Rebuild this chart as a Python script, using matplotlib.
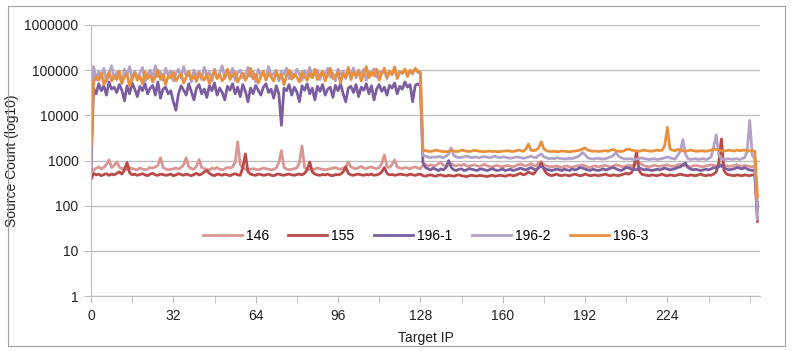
import matplotlib
matplotlib.use("Agg")
import matplotlib.pyplot as plt
from matplotlib.ticker import FixedLocator, FuncFormatter, MultipleLocator
from matplotlib.patches import Rectangle

# series names and colours
names = ["146", "155", "196-1", "196-2", "196-3"]
colors = ["#D99694", "#B94A48", "#7B5EA0", "#B3A2C7", "#E8903E"]

# source counts per target IP (0..259)
s146 = [700,
    600, 680, 720, 650, 700, 820, 1030, 700, 780, 925,
    720, 650, 680, 620, 700, 660, 640, 620, 680, 650,
    620, 650, 700, 680, 720, 780, 1150, 700, 650, 620,
    640, 660, 680, 650, 700, 800, 1150, 720, 660, 640,
    750, 1050, 700, 660, 640, 620, 680, 650, 700, 640,
    620, 660, 700, 680, 720, 900, 2600, 800, 680, 650,
    620, 640, 660, 640, 620, 650, 680, 660, 640, 620,
    640, 680, 900, 1660, 700, 650, 620, 640, 660, 680,
    900, 2100, 700, 650, 640, 620, 650, 680, 660, 640,
    620, 640, 660, 680, 700, 660, 640, 680, 720, 925,
    720, 680, 650, 700, 740, 680, 660, 700, 720, 680,
    660, 700, 850, 1330, 750, 700, 820, 1030, 720, 680,
    660, 700, 680, 650, 700, 720, 680, 660,
    780, 820, 750, 800, 760, 780, 850, 900, 780, 760,
    800, 850, 780, 760, 800, 780, 820, 760, 740, 780,
    800, 760, 740, 780, 820, 760, 740, 720, 760, 780,
    740, 720, 760, 780, 740, 720, 760, 800, 840, 780,
    760, 800, 850, 780, 760, 900, 950, 800, 760, 740,
    720, 740, 760, 720, 700, 740, 760, 720, 700, 740,
    760, 780, 800, 760, 720, 700, 740, 760, 720, 740,
    760, 780, 740, 720, 760, 800, 780, 740, 720, 760,
    780, 760, 800, 880, 900, 820, 760, 740, 720, 760,
    780, 760, 740, 760, 780, 800, 760, 740, 760, 800,
    820, 780, 760, 740, 720, 760, 780, 760, 740, 720,
    760, 780, 800, 780, 760, 800, 820, 780, 760, 740,
    760, 780, 800, 760, 740, 780, 760, 740, 720, 760,
    100]

s155 = [380,
    520, 480, 500, 460, 490, 510, 470, 500, 480, 520,
    560, 500, 620, 900, 540, 480, 500, 470, 490, 510,
    480, 460, 500, 520, 480, 470, 500, 490, 470, 480,
    500, 460, 480, 510, 490, 470, 500, 480, 460, 490,
    520, 480, 500, 560, 600, 520, 480, 460, 500, 490,
    470, 500, 480, 460, 490, 510, 480, 470, 700, 1400,
    560, 500, 480, 470, 500, 490, 470, 480, 500, 470,
    460, 490, 500, 480, 470, 490, 500, 480, 470, 490,
    500, 480, 520, 620, 925, 560, 500, 480, 470, 490,
    480, 500, 470, 460, 490, 480, 500, 560, 720, 520,
    480, 470, 490, 500, 480, 470, 490, 480, 500, 470,
    480, 500, 560, 700, 520, 480, 490, 470, 480, 500,
    490, 480, 470, 500, 480, 470, 490, 500,
    460, 450, 470, 480, 460, 450, 470, 480, 460, 450,
    470, 460, 450, 470, 480, 460, 450, 440, 460, 470,
    460, 450, 470, 460, 450, 440, 460, 470, 450, 460,
    470, 460, 450, 470, 480, 460, 470, 500, 520, 480,
    500, 560, 520, 500, 600, 700, 880, 640, 520, 480,
    460, 480, 500, 470, 460, 480, 470, 460, 480, 500,
    480, 460, 470, 500, 480, 460, 470, 480, 460, 470,
    480, 500, 470, 460, 480, 470, 460, 480, 500, 520,
    500, 540, 700, 1620, 600, 500, 480, 470, 460, 480,
    470, 460, 480, 500, 470, 460, 480, 470, 460, 480,
    500, 480, 470, 460, 480, 470, 460, 480, 500, 470,
    460, 480, 470, 500, 560, 900, 3000, 600, 500, 480,
    470, 460, 480, 470, 460, 480, 470, 460, 480, 470,
    45]

s196_1 = [600,
    40000, 30000, 50000, 35000, 45000, 28000, 55000, 38000, 42000, 32000,
    48000, 36000, 21000, 45000, 30000, 52000, 38000, 26000, 44000, 35000,
    50000, 30000, 40000, 46000, 28000, 55000, 24000, 38000, 42000, 30000,
    35000, 20000, 13000, 30000, 45000, 36000, 28000, 50000, 33000, 22000,
    40000, 48000, 30000, 38000, 25000, 45000, 35000, 52000, 28000, 40000,
    32000, 22000, 44000, 36000, 50000, 30000, 42000, 26000, 48000, 34000,
    20000, 40000, 30000, 46000, 36000, 28000, 42000, 50000, 32000, 38000,
    24000, 45000, 30000, 6000, 40000, 35000, 48000, 28000, 42000, 33000,
    20000, 45000, 36000, 50000, 30000, 40000, 22000, 44000, 34000, 48000,
    28000, 38000, 42000, 25000, 46000, 35000, 50000, 30000, 20000, 40000,
    44000, 32000, 48000, 26000, 42000, 36000, 50000, 30000, 45000, 22000,
    38000, 48000, 34000, 42000, 28000, 46000, 40000, 52000, 30000, 44000,
    38000, 55000, 42000, 48000, 20000, 46000, 50000, 45000,
    900, 700, 650, 620, 680, 640, 600, 650, 620, 700,
    1000, 700, 620, 600, 640, 650, 600, 620, 660, 640,
    620, 600, 640, 650, 620, 600, 630, 660, 620, 600,
    620, 650, 600, 620, 640, 600, 620, 650, 680, 640,
    620, 660, 700, 650, 620, 700, 750, 680, 640, 620,
    600, 620, 650, 620, 600, 640, 620, 600, 650, 620,
    640, 700, 680, 650, 620, 600, 640, 620, 600, 620,
    650, 620, 640, 680, 700, 660, 620, 600, 640, 700,
    680, 660, 640, 620, 700, 650, 620, 640, 620, 600,
    620, 640, 620, 650, 680, 650, 620, 640, 660, 700,
    720, 800, 880, 700, 650, 620, 640, 620, 600, 620,
    640, 620, 650, 700, 680, 720, 780, 680, 650, 620,
    640, 660, 700, 680, 650, 700, 650, 620, 600, 620,
    80]

s196_2 = [1000,
    120000, 60000, 95000, 70000, 110000, 55000, 85000, 125000, 65000, 90000,
    75000, 50000, 105000, 80000, 120000, 60000, 95000, 70000, 85000, 115000,
    55000, 80000, 100000, 65000, 125000, 72000, 90000, 60000, 110000, 78000,
    95000, 58000, 85000, 105000, 68000, 120000, 75000, 88000, 55000, 100000,
    72000, 95000, 62000, 115000, 80000, 90000, 58000, 105000, 70000, 85000,
    125000, 65000, 92000, 75000, 110000, 60000, 88000, 100000, 68000, 80000,
    115000, 72000, 95000, 55000, 105000, 78000, 90000, 62000, 120000, 75000,
    85000, 100000, 58000, 95000, 80000, 110000, 65000, 90000, 70000, 105000,
    82000, 60000, 98000, 75000, 115000, 68000, 88000, 100000, 62000, 92000,
    78000, 110000, 70000, 85000, 58000, 105000, 80000, 95000, 65000, 100000,
    75000, 112000, 68000, 90000, 82000, 105000, 60000, 95000, 78000, 108000,
    70000, 92000, 85000, 100000, 65000, 95000, 80000, 110000, 72000, 90000,
    85000, 100000, 78000, 95000, 82000, 105000, 90000, 85000,
    1300, 1250, 1200, 1150, 1200, 1180, 1220, 1200, 1150, 1250,
    1400, 1900, 1300, 1200, 1150, 1180, 1200, 1250, 1200, 1150,
    1200, 1180, 1150, 1200, 1220, 1180, 1150, 1200, 1250, 1180,
    1150, 1200, 1180, 1150, 1120, 1150, 1180, 1200, 1150, 1120,
    1150, 1200, 1250, 1180, 1150, 1300, 1400, 1200, 1150, 1100,
    1120, 1100, 1150, 1120, 1100, 1080, 1100, 1120, 1100, 1150,
    1200, 1300, 1500, 1350, 1150, 1100, 1080, 1100, 1120, 1100,
    1080, 1100, 1150, 1200, 1300, 1500, 1250, 1150, 1100, 1080,
    1100, 1080, 1050, 1080, 1100, 1150, 1100, 1080, 1050, 1080,
    1100, 1050, 1080, 1100, 1150, 1200, 1150, 1100, 1080, 1300,
    1600, 2900, 1400, 1100, 1050, 1080, 1100, 1050, 1080, 1100,
    1050, 1100, 1200, 2000, 3700, 1300, 1100, 1050, 1080, 1100,
    1050, 1080, 1100, 1050, 1100, 1150, 1600, 7700, 1300, 1100,
    50]

s196_3 = [1900,
    55000, 72000, 60000, 85000, 48000, 66000, 90000, 58000, 75000, 62000,
    95000, 52000, 70000, 82000, 45000, 68000, 88000, 60000, 73000, 50000,
    92000, 65000, 78000, 55000, 70000, 100000, 62000, 80000, 48000, 75000,
    67000, 90000, 58000, 72000, 84000, 52000, 70000, 95000, 63000, 77000,
    56000, 88000, 70000, 60000, 82000, 50000, 74000, 98000, 65000, 80000,
    58000, 72000, 105000, 62000, 78000, 90000, 55000, 70000, 85000, 60000,
    76000, 110000, 64000, 80000, 52000, 72000, 95000, 60000, 86000, 70000,
    58000, 92000, 66000, 80000, 48000, 75000, 100000, 63000, 82000, 70000,
    55000, 90000, 72000, 60000, 85000, 68000, 105000, 62000, 78000, 95000,
    58000, 80000, 110000, 65000, 75000, 90000, 52000, 85000, 70000, 115000,
    62000, 88000, 75000, 100000, 58000, 82000, 120000, 68000, 90000, 75000,
    105000, 60000, 85000, 110000, 70000, 95000, 80000, 118000, 65000, 92000,
    85000, 105000, 72000, 100000, 88000, 110000, 95000, 90000,
    1700, 1650, 1600, 1580, 1620, 1700, 1650, 1600, 1580, 1560,
    1600, 1650, 1620, 1580, 1600, 1700, 1650, 1600, 1580, 1620,
    1680, 1640, 1600, 1580, 1560, 1600, 1620, 1580, 1600, 1560,
    1580, 1600, 1620, 1650, 1600, 1580, 1620, 1700, 1650, 1600,
    1800, 2300, 1700, 1650, 1700, 1900, 2600, 1800, 1650, 1600,
    1580, 1600, 1560, 1580, 1620, 1600, 1580, 1560, 1600, 1620,
    1650, 1700, 1800, 1900, 1700, 1650, 1600, 1620, 1580, 1600,
    1620, 1650, 1600, 1700, 1750, 1650, 1600, 1580, 1620, 1750,
    1800, 1700, 1650, 1620, 1600, 1650, 1700, 1650, 1620, 1600,
    1650, 1700, 1650, 1700, 2200, 5400, 1800, 1700, 1650, 1750,
    1700, 1650, 1600, 1650, 1700, 1650, 1620, 1600, 1650, 1620,
    1600, 1650, 1700, 1800, 1750, 1700, 1650, 1620, 1650, 1700,
    1650, 1620, 1700, 1650, 1680, 1700, 1650, 1620, 1650, 1600,
    160]

series = [s146, s155, s196_1, s196_2, s196_3]
target_ip = list(range(len(s146)))

x_labels = [0, 32, 64, 96, 128, 160, 192, 224]
y_ticks = [1, 10, 100, 1000, 10000, 100000, 1000000]

plt.rcParams['font.family'] = ['Liberation Sans', 'DejaVu Sans']

fig = plt.figure(figsize=(7.92, 3.51), dpi=100)
ax = fig.add_axes([91/792, 55/351, 669/792, 271/351])

for name, col, vals in zip(names, colors, series):
    ax.plot(target_ip, vals, color=col, lw=2.0, label=name, solid_joinstyle='round')

ax.set_yscale('log')
ax.set_ylim(1, 1000000)
ax.set_xlim(0, len(s146))
ax.yaxis.set_major_locator(FixedLocator(y_ticks))
ax.yaxis.set_minor_locator(FixedLocator([]))
ax.yaxis.set_major_formatter(FuncFormatter(lambda v, p: '%d' % v))
ax.xaxis.set_major_locator(FixedLocator(x_labels))
ax.xaxis.set_minor_locator(MultipleLocator(16))
ax.grid(axis='y', color='#BEBEBE', lw=1)
ax.set_axisbelow(True)

for s in ['top', 'right']:
    ax.spines[s].set_visible(False)
for s in ['left', 'bottom']:
    ax.spines[s].set_color('#BEBEBE')
ax.tick_params(axis='both', which='both', color='#BEBEBE', direction='out', labelsize=10, labelcolor='#222222')
ax.tick_params(axis='x', which='major', length=5, pad=4)
ax.tick_params(axis='x', which='minor', length=5)
ax.tick_params(axis='y', length=5, pad=4)

ax.set_xlabel('Target IP', fontsize=10, labelpad=6, color='#222222')
ax.set_ylabel('Source Count (log10)', fontsize=10, color='#222222')
ax.yaxis.set_label_coords(-0.107, 0.5)

ax.legend(loc='center', bbox_to_anchor=(0.5, 0.222), ncol=5, frameon=False,
          fontsize=10, handlelength=2.8, handletextpad=0.3, columnspacing=1.4)

# chart border
fig.patches.append(Rectangle((8/792, 5/351), 777/792, 340/351, transform=fig.transFigure,
                             fill=False, edgecolor='#A0A0A0', lw=0.8))

plt.savefig('out.png', dpi=100)
